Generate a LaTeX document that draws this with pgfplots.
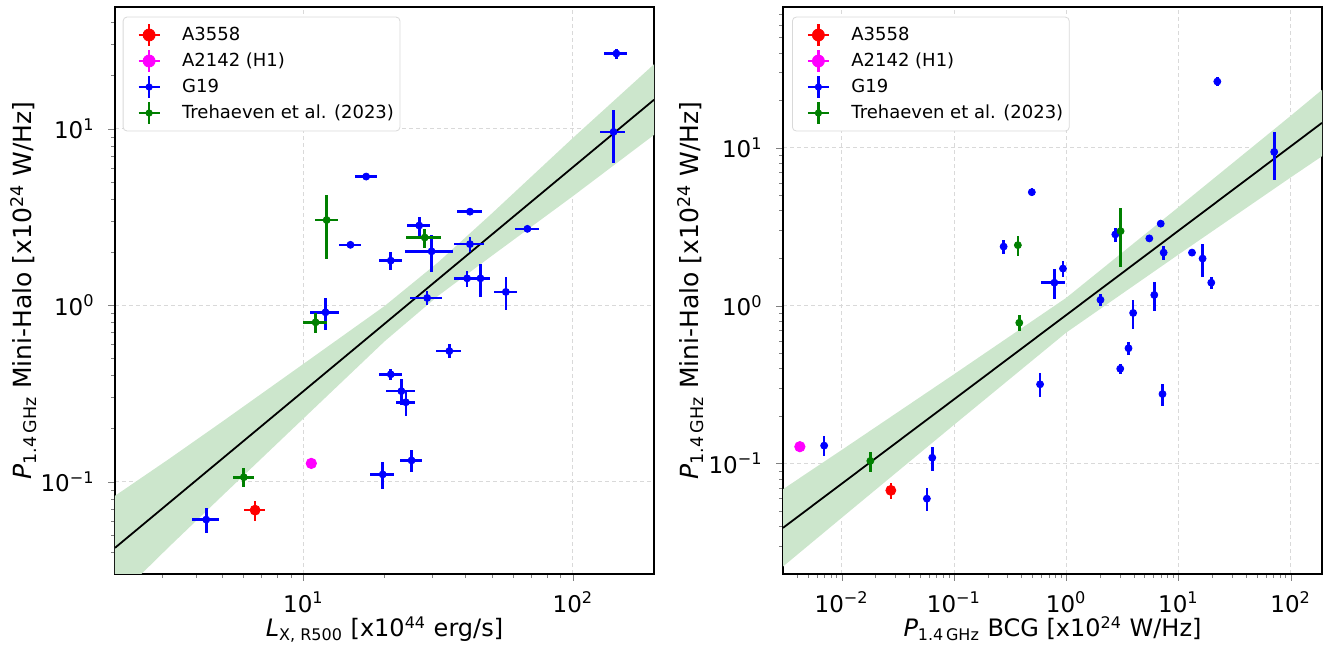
\documentclass[border=0pt]{standalone}
\usepackage{pgfplots}
\pgfplotsset{compat=1.18}
\usepgfplotslibrary{fillbetween}
\usepackage{fontspec}
\setmainfont{DejaVu Sans}
\definecolor{mplgreen}{RGB}{0,128,0}
\definecolor{mplblue}{RGB}{0,0,255}
\definecolor{mplred}{RGB}{255,0,0}
\definecolor{mplmagenta}{RGB}{255,0,255}
\definecolor{bandgreen}{RGB}{204,230,204}
\newcommand{\legerr}[2]{%
  \path[draw=none,fill=none] (0pt,-6.5pt) rectangle (23pt,6.5pt);
  \draw[overlay, draw=#1, line width=1.3pt] (4.75pt,0pt) -- (15.25pt,0pt);
  \draw[overlay, draw=#1, line width=1.3pt] (10pt,-5.3pt) -- (10pt,5.3pt);
  \fill[overlay, fill=#1] (10pt,0pt) circle (#2);
}
\pgfplotsset{
  eb/.style={only marks, mark=*, color=#1,
    error bars/x dir=both, error bars/x explicit, error bars/y dir=both, error bars/y explicit,
    error bars/error bar style={line width=1.3pt, color=#1}, error bars/error mark=none},
}
\begin{document}
\begin{tikzpicture}
% ---------------- left panel ----------------
\begin{loglogaxis}[at={(0pt,0pt)}, anchor=south west,
  scale only axis, width=269.5pt, height=283.5pt,
  axis line style={line width=0.7pt},
  tick align=outside, tick pos=left,
  major tick length=3.5pt, minor tick length=2pt,
  grid=major, major grid style={dash pattern=on 2pt off 1.5pt, draw=gray!30, line width=0.4pt},
  tick label style={font=\fontsize{11.5}{13}\selectfont},
  yticklabel style={xshift=-3.2pt},
  xticklabel style={yshift=-2pt},
  xlabel style={font=\fontsize{12}{14}\selectfont, at={(axis description cs:0.5,0)}, anchor=base, yshift=-31.5pt},
  ylabel style={font=\fontsize{12.5}{14}\selectfont, at={(axis description cs:-0.154,0.5)}, anchor=base, rotate=0},
  legend style={at={(0.0143,0.983)}, anchor=north west, draw=black!15, rounded corners=2pt,
    font=\fontsize{9}{10.5}\selectfont, row sep=0pt, column sep=3.5pt,
    inner xsep=3pt, inner ysep=2.5pt, nodes={inner sep=0pt}},
  legend cell align=left,
  ylabel={\textit{P}\textsubscript{1.4\,GHz} Mini-Halo [x10\textsuperscript{24} W/Hz]},
  xmin=2, xmax=200, ymin=0.03, ymax=49,
  xtick={10,100}, xticklabels={10\textsuperscript{1},10\textsuperscript{2}},
  minor xtick={3,4,5,6,7,8,9,20,30,40,50,60,70,80,90},
  ytick={0.1,1,10}, yticklabels={10\textsuperscript{−1},10\textsuperscript{0},10\textsuperscript{1}},
  minor ytick={0.04,0.05,0.06,0.07,0.08,0.09,0.2,0.3,0.4,0.5,0.6,0.7,0.8,0.9,2,3,4,5,6,7,8,9,20,30,40},
  xlabel={\textit{L}\textsubscript{X, R500} [x10\textsuperscript{44} erg/s]},
]
\addplot[name path=lup, draw=none, forget plot] coordinates {(2,0.0832) (3.16,0.134) (5,0.219) (10,0.465) (20,0.989) (31.6,1.75) (50,3.31) (100,8.87) (200,23.2)};
\addplot[name path=llo, draw=none, forget plot] coordinates {(2,0.0214) (3.16,0.0425) (5,0.0832) (10,0.228) (20,0.624) (31.6,1.13) (50,1.905) (100,4.15) (200,9.23)};
\addplot[bandgreen, forget plot] fill between[of=lup and llo];
\addplot[black, line width=0.9pt, forget plot] coordinates {(2,0.0422) (200,14.6)};
\addplot[eb=mplred, mark size=2.5pt, legend image code/.code={\legerr{mplred}{3pt}}] coordinates {(6.62,0.069) +- (0.6,0.009)};
\addlegendentry{A3558}
\addplot[only marks, mark=*, color=mplmagenta, mark size=2.6pt, legend image code/.code={\legerr{mplmagenta}{3pt}}] coordinates {(10.7,0.127)};
\addlegendentry{A2142 (H1)}
\addplot[eb=mplblue, mark size=1.75pt, legend image code/.code={\legerr{mplblue}{1.6pt}}] coordinates {
(145,26.7) +- (14,1.8)
(141.6,9.6) +- (15,3.2)
(17.1,5.36) +- (1.6,0.2)
(41.5,3.39) +- (4.5,0.15)
(26.9,2.83) +- (2.6,0.35)
(67.8,2.71) +- (6.9,0.1)
(14.95,2.2) +- (1.4,0.08)
(41.5,2.22) +- (5.4,0.22)
(29.9,2.02) +- (6.0,0.48)
(21.1,1.79) +- (2.1,0.21)
(40.5,1.42) +- (4.4,0.15)
(45.4,1.42) +- (3.9,0.3)
(56.4,1.19) +- (5.5,0.25)
(28.8,1.10) +- (4.0,0.1)
(12.08,0.912) +- (1.5,0.19)
(34.8,0.55) +- (3.8,0.05)
(21.1,0.406) +- (2.1,0.03)
(23.1,0.326) +- (2.8,0.055)
(24.0,0.282) +- (1.9,0.045)
(25.2,0.132) +- (2.3,0.019)
(19.7,0.110) +- (2.0,0.019)
(4.36,0.061) +- (0.5,0.01)
};
\addlegendentry{G19}
\addplot[eb=mplgreen, mark size=1.75pt, legend image code/.code={\legerr{mplgreen}{1.6pt}}] coordinates {
(12.2,3.04) +- (1.2,1.2)
(28.2,2.42) +- (4.2,0.3)
(11.1,0.80) +- (1.1,0.1)
(6.01,0.106) +- (0.55,0.013)
};
\addlegendentry{Trehaeven et al. (2023)}
\end{loglogaxis}
% ---------------- right panel ----------------
\begin{loglogaxis}[at={(334pt,0pt)}, anchor=south west,
  scale only axis, width=269.5pt, height=283.5pt,
  axis line style={line width=0.7pt},
  tick align=outside, tick pos=left,
  major tick length=3.5pt, minor tick length=2pt,
  grid=major, major grid style={dash pattern=on 2pt off 1.5pt, draw=gray!30, line width=0.4pt},
  tick label style={font=\fontsize{11.5}{13}\selectfont},
  yticklabel style={xshift=-3.2pt},
  xticklabel style={yshift=-2pt},
  xlabel style={font=\fontsize{12}{14}\selectfont, at={(axis description cs:0.5,0)}, anchor=base, yshift=-31.5pt},
  ylabel style={font=\fontsize{12.5}{14}\selectfont, at={(axis description cs:-0.156,0.5)}, anchor=base, rotate=0},
  legend style={at={(0.0167,0.983)}, anchor=north west, draw=black!15, rounded corners=2pt,
    font=\fontsize{9}{10.5}\selectfont, row sep=0pt, column sep=3.5pt,
    inner xsep=3pt, inner ysep=2.5pt, nodes={inner sep=0pt}},
  legend cell align=left,
  ylabel={\textit{P}\textsubscript{1.4\,GHz} Mini-Halo [x10\textsuperscript{24} W/Hz]},
  xmin=0.003, xmax=190, ymin=0.02, ymax=78,
  xtick={0.01,0.1,1,10,100}, xticklabels={10\textsuperscript{−2},10\textsuperscript{−1},10\textsuperscript{0},10\textsuperscript{1},10\textsuperscript{2}},
  minor xtick={0.004,0.005,0.006,0.007,0.008,0.009,0.02,0.03,0.04,0.05,0.06,0.07,0.08,0.09,0.2,0.3,0.4,0.5,0.6,0.7,0.8,0.9,2,3,4,5,6,7,8,9,20,30,40,50,60,70,80,90},
  ytick={0.1,1,10}, yticklabels={10\textsuperscript{−1},10\textsuperscript{0},10\textsuperscript{1}},
  minor ytick={0.03,0.04,0.05,0.06,0.07,0.08,0.09,0.2,0.3,0.4,0.5,0.6,0.7,0.8,0.9,2,3,4,5,6,7,8,9,20,30,40,50,60,70},
  xlabel={\textit{P}\textsubscript{1.4\,GHz} BCG [x10\textsuperscript{24} W/Hz]},
]
\addplot[name path=rup, draw=none, forget plot] coordinates {(0.003,0.0689) (0.01,0.122) (0.1,0.368) (1,1.122) (10,4.21) (100,15.96) (190,23.3)};
\addplot[name path=rlo, draw=none, forget plot] coordinates {(0.003,0.0223) (0.01,0.0454) (0.1,0.176) (1,0.676) (10,2.11) (100,6.50) (190,8.85)};
\addplot[bandgreen, forget plot] fill between[of=rup and rlo];
\addplot[black, line width=0.9pt, forget plot] coordinates {(0.003,0.0392) (190,14.4)};
\addplot[eb=mplred, mark size=2.5pt, legend image code/.code={\legerr{mplred}{3pt}}] coordinates {(0.0274,0.0677) +- (0.001,0.008)};
\addlegendentry{A3558}
\addplot[only marks, mark=*, color=mplmagenta, mark size=2.6pt, legend image code/.code={\legerr{mplmagenta}{3pt}}] coordinates {(0.00424,0.128)};
\addlegendentry{A2142 (H1)}
\addplot[eb=mplblue, mark size=1.75pt, legend image code/.code={\legerr{mplblue}{1.6pt}}] coordinates {
(22.2,26.3) +- (1.0,1.8)
(71.3,9.42) +- (2,3.2)
(0.494,5.24) +- (0.01,0.3)
(2.74,2.83) +- (0.05,0.3)
(6.95,3.31) +- (0.1,0.15)
(5.50,2.67) +- (0.1,0.1)
(0.277,2.37) +- (0.005,0.25)
(7.38,2.17) +- (0.1,0.22)
(13.2,2.17) +- (0.2,0.05)
(16.4,1.99) +- (0.3,0.48)
(0.936,1.72) +- (0.02,0.21)
(19.6,1.40) +- (0.5,0.12)
(0.785,1.40) +- (0.19,0.30)
(6.09,1.17) +- (0.1,0.25)
(2.02,1.09) +- (0.05,0.1)
(3.95,0.90) +- (0.1,0.19)
(3.59,0.538) +- (0.05,0.05)
(3.03,0.399) +- (0.05,0.03)
(0.585,0.318) +- (0.01,0.055)
(7.21,0.276) +- (0.1,0.045)
(0.00698,0.130) +- (0.0001,0.019)
(0.0641,0.109) +- (0.001,0.019)
(0.0574,0.060) +- (0.001,0.01)
};
\addlegendentry{G19}
\addplot[eb=mplgreen, mark size=1.75pt, legend image code/.code={\legerr{mplgreen}{1.6pt}}] coordinates {
(3.05,2.97) +- (0.05,1.2)
(0.371,2.42) +- (0.01,0.35)
(0.382,0.78) +- (0.01,0.09)
(0.0180,0.104) +- (0.0005,0.015)
};
\addlegendentry{Trehaeven et al. (2023)}
\end{loglogaxis}
\pgfresetboundingbox
\path (-57.5pt,-39pt) rectangle (607.5pt,287pt);
\end{tikzpicture}
\end{document}
